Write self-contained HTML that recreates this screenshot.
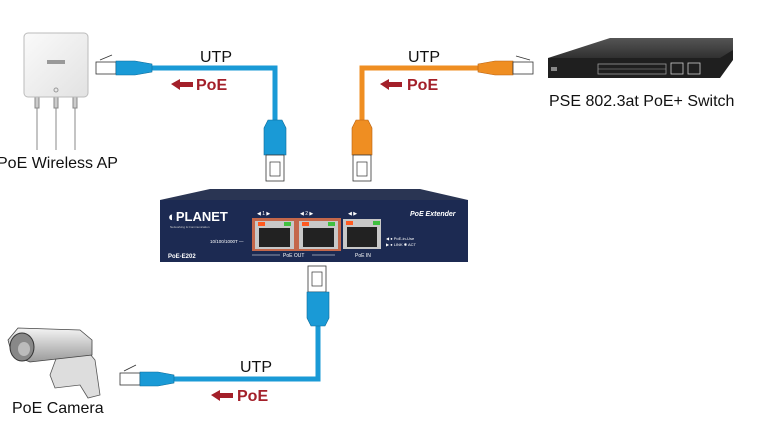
<!DOCTYPE html>
<html><head><style>
html,body{margin:0;padding:0;background:#fff;}
svg{display:block;font-family:"Liberation Sans",Arial,sans-serif;}
</style></head><body>
<svg width="759" height="435" viewBox="0 0 759 435">
<defs>
<linearGradient id="ap" x1="0" y1="0" x2="1" y2="1"><stop offset="0" stop-color="#fafafa"/><stop offset="1" stop-color="#e2e2e2"/></linearGradient>
<linearGradient id="sw" x1="0" y1="0" x2="0" y2="1"><stop offset="0" stop-color="#555"/><stop offset="1" stop-color="#1a1a1a"/></linearGradient>
<linearGradient id="cam" x1="0" y1="0" x2="0" y2="1"><stop offset="0" stop-color="#f4f4f4"/><stop offset="1" stop-color="#9a9a9a"/></linearGradient>
</defs>

<!-- AP -->
<g stroke="#888" stroke-width="1">
<line x1="37" y1="97" x2="37" y2="150"/><line x1="56" y1="97" x2="56" y2="150"/><line x1="75" y1="97" x2="75" y2="150"/>
<rect x="35" y="96" width="4" height="12" fill="#ccc"/><rect x="54" y="96" width="4" height="12" fill="#ccc"/><rect x="73" y="96" width="4" height="12" fill="#ccc"/>
<rect x="24" y="33" width="64" height="64" rx="4" fill="url(#ap)" stroke="#bbb"/>
</g>
<rect x="47" y="60" width="18" height="4" fill="#999"/>
<circle cx="56" cy="90" r="2" fill="none" stroke="#999"/>
<text x="-3" y="168" font-size="16" fill="#111">PoE Wireless AP</text>

<!-- blue cable AP -->
<path d="M150 68 H275 V122" fill="none" stroke="#1a9ad6" stroke-width="5"/>
<rect x="96" y="62" width="20" height="12" fill="#fff" stroke="#333" stroke-width="0.8"/>
<line x1="100" y1="60" x2="112" y2="55" stroke="#333" stroke-width="0.8"/>
<path d="M116 61 H135 L152 64 V72 L135 75 H116 Z" fill="#1a9ad6" stroke="#0c6b99" stroke-width="0.6"/>
<path d="M264 155 V128 L268 120 H282 L286 128 V155 Z" fill="#1a9ad6" stroke="#0c6b99" stroke-width="0.6"/>
<rect x="266" y="155" width="18" height="26" fill="#fff" stroke="#333" stroke-width="0.8"/>
<rect x="270" y="162" width="10" height="14" fill="none" stroke="#333" stroke-width="0.7"/>
<text x="200" y="62" font-size="16" fill="#111">UTP</text>
<path d="M171 84 L180 79 V82 H193 V87 H180 V90 Z" fill="#a3202a"/>
<text x="196" y="90" font-size="16" font-weight="bold" fill="#a3202a">PoE</text>

<!-- orange cable switch -->
<path d="M480 68 H362 V122" fill="none" stroke="#ef8e22" stroke-width="5"/>
<path d="M478 64 L495 61 H513 V75 H495 L478 72 Z" fill="#ef8e22" stroke="#b86110" stroke-width="0.6"/>
<rect x="513" y="62" width="20" height="12" fill="#fff" stroke="#333" stroke-width="0.8"/>
<line x1="516" y1="56" x2="530" y2="60" stroke="#333" stroke-width="0.8"/>
<path d="M352 155 V128 L356 120 H368 L372 128 V155 Z" fill="#ef8e22" stroke="#b86110" stroke-width="0.6"/>
<rect x="353" y="155" width="18" height="26" fill="#fff" stroke="#333" stroke-width="0.8"/>
<rect x="357" y="162" width="10" height="14" fill="none" stroke="#333" stroke-width="0.7"/>
<text x="408" y="62" font-size="16" fill="#111">UTP</text>
<path d="M380 84 L389 79 V82 H402 V87 H389 V90 Z" fill="#a3202a"/>
<text x="407" y="90" font-size="16" font-weight="bold" fill="#a3202a">PoE</text>

<!-- Switch -->
<path d="M548 58 L610 38 H733 L733 50 L720 70 H548 Z" fill="url(#sw)"/>
<path d="M548 58 H720 L733 50 V60 L720 78 H548 Z" fill="#1f1f1f"/>
<rect x="598" y="64" width="68" height="10" fill="none" stroke="#999" stroke-width="0.8"/>
<line x1="598" y1="69" x2="666" y2="69" stroke="#999" stroke-width="0.6"/>
<rect x="671" y="63" width="12" height="11" fill="none" stroke="#ccc" stroke-width="0.8"/>
<rect x="688" y="63" width="12" height="11" fill="none" stroke="#ccc" stroke-width="0.8"/>
<rect x="551" y="67" width="6" height="4" fill="#888"/>
<text x="549" y="106" font-size="16" fill="#111">PSE 802.3at PoE+ Switch</text>

<!-- Device -->
<path d="M160 200 L210 189 H420 L468 200 Z" fill="#2a3553"/>
<rect x="160" y="200" width="308" height="62" fill="#1c2a52"/>
<text x="168" y="221" font-size="13" font-weight="bold" fill="#fff">◐PLANET</text>
<text x="170" y="228" font-size="3" fill="#ccc">Networking &amp; Communication</text>
<text x="168" y="258" font-size="6" font-weight="bold" fill="#fff">PoE-E202</text>
<text x="410" y="216" font-size="7" font-style="italic" font-weight="bold" fill="#fff">PoE Extender</text>
<text x="210" y="243" font-size="4.5" fill="#fff">10/100/1000T —</text>
<g fill="#fff" font-size="5"><text x="257" y="215">◀ 1 ▶</text><text x="300" y="215">◀ 2 ▶</text><text x="348" y="215">◀ ▶</text></g>
<g>
<rect x="252" y="218" width="45" height="33" fill="#c4674a"/><rect x="255" y="221" width="39" height="28" fill="#c8c8c8"/><rect x="259" y="228" width="31" height="19" fill="#222"/>
<rect x="258" y="222" width="7" height="4" fill="#ff5a20"/><rect x="284" y="222" width="7" height="4" fill="#40c040"/>
<rect x="296" y="218" width="45" height="33" fill="#c4674a"/><rect x="299" y="221" width="39" height="28" fill="#c8c8c8"/><rect x="303" y="228" width="31" height="19" fill="#222"/>
<rect x="302" y="222" width="7" height="4" fill="#ff5a20"/><rect x="328" y="222" width="7" height="4" fill="#40c040"/>
<rect x="343" y="219" width="38" height="30" fill="#c8c8c8"/><rect x="347" y="227" width="30" height="20" fill="#222"/>
<rect x="346" y="221" width="7" height="4" fill="#ff5a20"/><rect x="373" y="221" width="7" height="4" fill="#40c040"/>
</g>
<text x="386" y="240" font-size="4" fill="#fff">◀ ● PoE-in-Use</text>
<text x="386" y="246" font-size="4" fill="#fff">▶ ● LINK ✱ ACT</text>
<line x1="252" y1="255" x2="280" y2="255" stroke="#fff" stroke-width="0.6"/><line x1="312" y1="255" x2="335" y2="255" stroke="#fff" stroke-width="0.6"/>
<text x="283" y="257" font-size="5" fill="#fff">PoE OUT</text>
<text x="355" y="257" font-size="5" fill="#fff">PoE IN</text>

<!-- bottom blue cable -->
<path d="M318 322 V379 H172" fill="none" stroke="#1a9ad6" stroke-width="5"/>
<rect x="308" y="266" width="18" height="26" fill="#fff" stroke="#333" stroke-width="0.8"/>
<rect x="312" y="272" width="10" height="14" fill="none" stroke="#333" stroke-width="0.7"/>
<path d="M307 292 H329 V318 L325 326 H311 L307 318 Z" fill="#1a9ad6" stroke="#0c6b99" stroke-width="0.6"/>
<rect x="120" y="373" width="20" height="12" fill="#fff" stroke="#333" stroke-width="0.8"/>
<line x1="124" y1="371" x2="136" y2="365" stroke="#333" stroke-width="0.8"/>
<path d="M140 372 H158 L174 375 V383 L158 386 H140 Z" fill="#1a9ad6" stroke="#0c6b99" stroke-width="0.6"/>
<text x="240" y="372" font-size="16" fill="#111">UTP</text>
<path d="M211 395 L220 390 V393 H233 V398 H220 V401 Z" fill="#a3202a"/>
<text x="237" y="401" font-size="16" font-weight="bold" fill="#a3202a">PoE</text>

<!-- Camera -->
<path d="M50 375 L60 348 H85 L95 360 L100 395 L88 398 L80 385 L55 388 Z" fill="#ddd" stroke="#555" stroke-width="0.8"/>
<path d="M8 340 L18 328 L80 330 L92 340 L92 355 L30 362 L12 355 Z" fill="url(#cam)" stroke="#444" stroke-width="0.8"/>
<ellipse cx="22" cy="347" rx="12" ry="14" fill="#888" stroke="#333"/>
<ellipse cx="24" cy="349" rx="6" ry="7" fill="#bbb"/>
<text x="12" y="413" font-size="16" fill="#111">PoE Camera</text>
</svg>
</body></html>
